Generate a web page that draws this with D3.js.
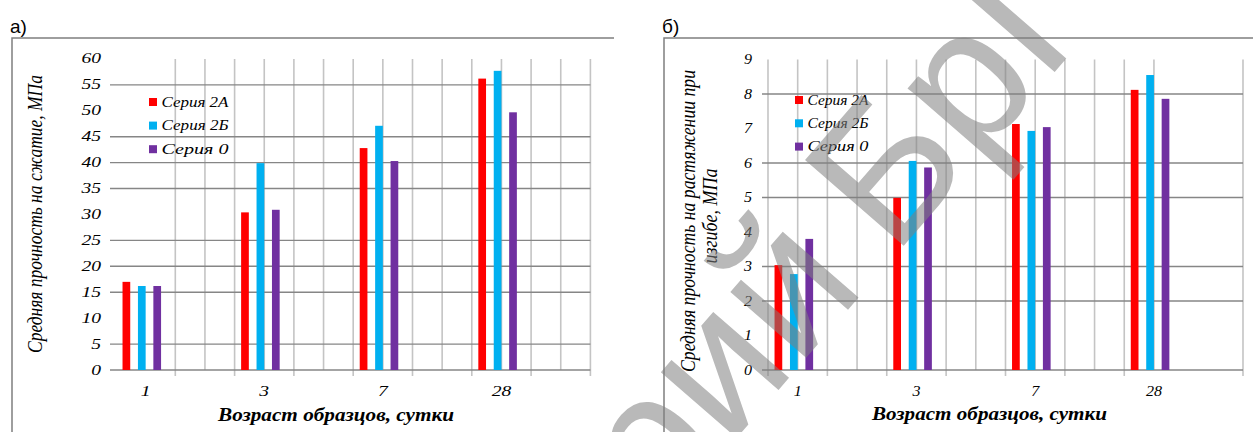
<!DOCTYPE html>
<html>
<head>
<meta charset="utf-8">
<script src="https://cdn.jsdelivr.net/npm/d3@7"></script>
<style>
    body { margin: 0; background: #fff; }
    svg { display: block; }
</style>
</head>
<body>
<svg id="chart" width="1253" height="432"></svg>
<script>
// categories of the x axis (every second slot is empty, as in the source workbook)
var categories = ["1", "", "3", "", "7", "", "28", ""];
var seriesNames = ["Серия 2А", "Серия 2Б", "Серия 0"];
var seriesColors = ["#ff0000", "#00b0f0", "#7030a0"];

// а) strength in compression, MPa
var compress2A = [17.0, null, 30.4, null, 42.8, null, 56.2, null];
var compress2B = [16.2, null, 39.9, null, 47.1, null, 57.7, null];
var compress0 = [16.2, null, 30.9, null, 40.3, null, 49.7, null];
var compressTicks = [0, 5, 10, 15, 20, 25, 30, 35, 40, 45, 50, 55, 60];
var compressGrid = [0, 5, 15, 20, 25, 35, 40, 45, 55];

// б) strength in bending tension, MPa
var bend2A = [3.04, null, 4.99, null, 7.13, null, 8.12, null];
var bend2B = [2.78, null, 6.06, null, 6.93, null, 8.55, null];
var bend0 = [3.80, null, 5.87, null, 7.04, null, 7.86, null];
var bendTicks = [0, 1, 2, 3, 4, 5, 6, 7, 8, 9];
var bendGrid = [0, 2, 3, 5, 6, 8];

var xTitle = "Возраст образцов, сутки";

var svg = d3.select("#chart");
var serif = "'Liberation Serif', 'DejaVu Serif', serif";

function drawPanel(o) {
    var g = svg.append("g");

    // frame (top and left edge)
    g.append("path")
        .attr("d", "M" + o.box[2] + "," + o.box[1] + "H" + o.box[0] + "V" + 440)
        .attr("fill", "none")
        .attr("stroke", "#7f7f7f")
        .attr("stroke-width", 1.5);

    g.append("text")
        .attr("x", o.labelX).attr("y", 33)
        .style("font-family", "'Liberation Sans', Arial, sans-serif")
        .style("font-size", "19px")
        .text(o.label);

    var x = d3.scaleBand()
        .domain(d3.range(categories.length))
        .range([o.left, o.right]);
    var bw = x.bandwidth();
    var inner = d3.scaleBand()
        .domain(d3.range(seriesNames.length))
        .range([0.11 * bw, 0.76 * bw])
        .paddingInner(0.5);
    var y = d3.scaleLinear()
        .domain([0, o.max])
        .range([o.bottom, o.top]);

    // vertical gridlines at every half category
    var half = d3.range(categories.length * 2 + 1).filter(function (k) {
        return o.skip.indexOf(k) < 0;
    });
    g.append("g").selectAll("line")
        .data(half)
        .enter().append("line")
        .attr("x1", function (k) { return o.left + k * bw / 2; })
        .attr("x2", function (k) { return o.left + k * bw / 2; })
        .attr("y1", y(o.max))
        .attr("y2", function (k) { return k % 2 === 0 ? y(0) + 6 : y(0); })
        .attr("stroke", "#c4c4c4")
        .attr("stroke-width", 1.6);

    // horizontal gridlines
    g.append("g").selectAll("line")
        .data(o.grid)
        .enter().append("line")
        .attr("x1", o.left - 6)
        .attr("x2", o.right)
        .attr("y1", function (d) { return y(d); })
        .attr("y2", function (d) { return y(d); })
        .attr("stroke", "#868686")
        .attr("stroke-width", 1.4);

    // bars
    o.data.forEach(function (values, s) {
        g.append("g").selectAll("rect")
            .data(values.map(function (v, i) { return {i: i, v: v}; }).filter(function (d) { return d.v != null; }))
            .enter().append("rect")
            .attr("x", function (d) { return x(d.i) + inner(s); })
            .attr("width", inner.bandwidth())
            .attr("y", function (d) { return y(d.v); })
            .attr("height", function (d) { return y(0) - y(d.v); })
            .attr("fill", seriesColors[s]);
    });

    // y tick labels
    g.append("g").selectAll("text")
        .data(o.ticks)
        .enter().append("text")
        .attr("transform", function (d) {
            return "translate(" + o.tickRight + "," + (y(d) + 4.5) + ") scale(" + o.tickSx + ",1)";
        })
        .attr("text-anchor", "end")
        .style("font-family", serif)
        .style("font-style", "italic")
        .style("font-size", "14px")
        .text(function (d) { return d; });

    // category labels
    g.append("g").selectAll("text")
        .data(categories)
        .enter().append("text")
        .attr("transform", function (d, i) {
            return "translate(" + (x(i) + bw / 2) + ",396) scale(" + o.tickSx + ",1)";
        })
        .attr("text-anchor", "middle")
        .style("font-family", serif)
        .style("font-style", "italic")
        .style("font-size", "14px")
        .text(function (d) { return d; });

    // legend
    var lg = g.append("g").selectAll("g")
        .data(seriesNames)
        .enter().append("g")
        .attr("transform", function (d, i) {
            return "translate(" + o.legend.x + "," + (o.legend.y + i * o.legend.dy) + ")";
        });
    lg.append("rect")
        .attr("x", 0).attr("y", -4)
        .attr("width", 8).attr("height", 8)
        .attr("fill", function (d, i) { return seriesColors[i]; });
    lg.append("text")
        .attr("x", 12.5).attr("y", 4.5)
        .attr("textLength", o.legend.len)
        .attr("lengthAdjust", "spacingAndGlyphs")
        .style("font-family", serif)
        .style("font-style", "italic")
        .style("font-size", "14px")
        .text(function (d) { return d; });

    // axis titles
    g.append("text")
        .attr("x", o.xTitle[0]).attr("y", o.xTitle[1])
        .attr("text-anchor", "middle")
        .attr("textLength", o.xTitle[2])
        .attr("lengthAdjust", "spacingAndGlyphs")
        .style("font-family", serif)
        .style("font-style", "italic")
        .style("font-weight", "bold")
        .style("font-size", "19px")
        .text(xTitle);

    o.yTitle.forEach(function (t) {
        g.append("text")
            .attr("transform", "translate(" + t.x + "," + t.y + ") rotate(-90)")
            .attr("text-anchor", "middle")
            .attr("textLength", t.len)
            .attr("lengthAdjust", "spacingAndGlyphs")
            .style("font-family", serif)
            .style("font-style", "italic")
            .style("font-size", "20px")
            .text(t.text);
    });
}

drawPanel({
    label: "а)", labelX: 10,
    box: [12, 38, 614],
    left: 116, right: 590.4, top: 58.9, bottom: 370, max: 60,
    ticks: compressTicks, grid: compressGrid,
    data: [compress2A, compress2B, compress0],
    skip: [0, 1],
    tickRight: 101, tickSx: 1.4,
    legend: {x: 149, y: 102, dy: 23.6, len: 67},
    xTitle: [336, 421, 236],
    yTitle: [{x: 42, y: 214, len: 278, text: "Средняя прочность на сжатие, МПа"}]
});

drawPanel({
    label: "б)", labelX: 662,
    box: [664, 38, 1260],
    left: 768, right: 1243, top: 59.5, bottom: 370, max: 9,
    ticks: bendTicks, grid: bendGrid,
    data: [bend2A, bend2B, bend0],
    skip: [14, 15],
    tickRight: 752, tickSx: 1.15,
    legend: {x: 795, y: 100, dy: 23.3, len: 61},
    xTitle: [989.5, 420, 235],
    yTitle: [
        {x: 695, y: 221, len: 302, text: "Средняя прочность на растяжении при"},
        {x: 717, y: 216, len: 95, text: "изгибе, МПа"}
    ]
});

// repository watermark
var wm = svg.append("g")
    .attr("transform", "translate(900,250) rotate(-49)")
    .style("font-family", "'Liberation Sans', Arial, sans-serif")
    .style("font-size", "190px")
    .attr("fill", "#808080")
    .attr("opacity", 0.55);
wm.append("text").attr("x", -50).attr("text-anchor", "end").text("Репозиторий");
wm.append("text").attr("x", -10).text("БрГТУ");
</script>
</body>
</html>
